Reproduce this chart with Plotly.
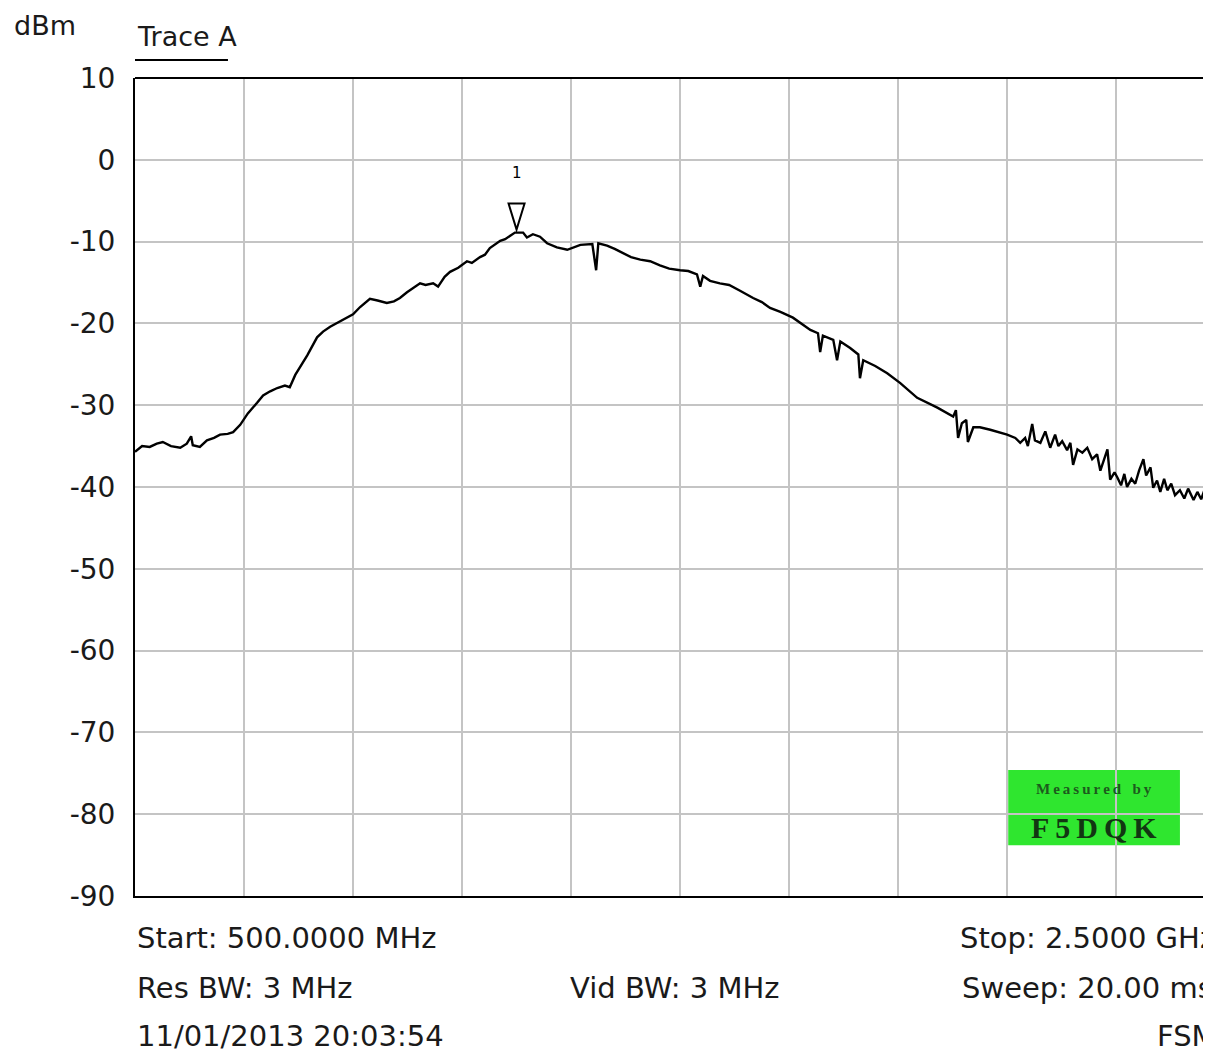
import plotly.graph_objects as go

# trace A (MHz, dBm)
freq_mhz = [500, 513, 527, 540, 551, 566, 583, 595, 603, 606, 619, 632, 645, 656, 670, 680, 693, 707,
            724, 735, 748, 761, 775, 784, 794, 803, 816, 834, 845, 858, 875, 889, 900, 913, 931, 945,
            962, 975, 986, 999, 1008, 1023, 1033, 1047, 1056, 1068, 1078, 1093, 1109, 1118, 1133, 1142,
            1151, 1160, 1170, 1179, 1188, 1197, 1212, 1219, 1230, 1243, 1256, 1274, 1293, 1317, 1339,
            1346, 1350, 1366, 1380, 1395, 1410, 1427, 1445, 1463, 1480, 1500, 1515, 1531, 1537, 1542,
            1555, 1573, 1590, 1610, 1620, 1634, 1650, 1665, 1684,
            1707, 1739, 1753, 1757, 1762, 1781, 1788, 1794, 1812, 1827, 1830, 1836, 1858, 1880, 1904,
            1935, 1972, 2001, 2006, 2010, 2017, 2025, 2028, 2038, 2050, 2069, 2087, 2100, 2115, 2124,
            2133, 2138, 2146, 2151, 2161, 2170, 2179, 2188, 2194, 2201, 2210, 2216, 2221, 2229, 2238,
            2247, 2256, 2265, 2271, 2280, 2284, 2289, 2297, 2302, 2309, 2315, 2320, 2328, 2335, 2342,
            2350, 2355, 2363, 2368, 2375, 2381, 2388, 2394, 2401, 2408, 2417, 2425, 2432, 2442, 2449,
            2456, 2464, 2469, 2474]
level_dbm = [-35.7, -35.0, -35.1, -34.7, -34.5, -35.0, -35.2, -34.7, -33.8, -34.9, -35.1, -34.3, -34.0,
             -33.6, -33.5, -33.3, -32.4, -31.0, -29.7, -28.8, -28.3, -27.9, -27.6, -27.8, -26.3, -25.3,
             -23.9, -21.7, -21.0, -20.4, -19.8, -19.3, -18.9, -18.0, -17.0, -17.2, -17.5, -17.3, -16.9,
             -16.2, -15.8, -15.1, -15.3, -15.1, -15.5, -14.3, -13.7, -13.2, -12.4, -12.6, -11.9, -11.6,
             -10.8, -10.4, -9.9, -9.7, -9.3, -8.9, -8.9, -9.5, -9.1, -9.4, -10.2, -10.7, -11.0, -10.4,
             -10.3, -13.5, -10.2, -10.5, -10.9, -11.4, -11.9, -12.2, -12.4, -12.9, -13.3, -13.5, -13.6,
             -14.0, -15.5, -14.2, -14.8, -15.1, -15.3, -16.0, -16.4, -16.9, -17.4, -18.1, -18.6,
             -19.3, -20.8, -21.2, -23.5, -21.5, -22.0, -24.5, -22.2, -23.0, -23.8, -26.7, -24.5, -25.2,
             -26.1, -27.3, -29.1, -30.3, -31.4, -30.6, -34.0, -32.2, -31.8, -34.5, -32.7, -32.7, -33.0,
             -33.3, -33.6, -34.0, -34.6, -34.0, -35.0, -32.3, -34.3, -34.6, -33.2, -35.2, -33.6, -35.0,
             -34.4, -35.5, -34.6, -37.3, -35.4, -35.8, -35.2, -36.6, -36.0, -38.0, -36.0, -35.4, -39.1,
             -38.2, -38.8, -39.8, -38.4, -40.0, -39.0, -39.6, -38.0, -36.6, -38.6, -37.6, -40.1, -39.2,
             -40.6, -39.0, -40.4, -39.6, -41.0, -40.4, -41.4, -40.2, -41.6, -40.6, -41.5, -40.0, -41.2,
             -40.8]

marker_freq = 1200
marker_level = -8.9

y_ticks = [10, 0, -10, -20, -30, -40, -50, -60, -70, -80, -90]
y_ticktext = ["10", "0", "-10", "-20", "-30", "-40", "-50", "-60", "-70", "-80", "-90"]

fuente = "DejaVu Sans, Liberation Sans, sans-serif"
color_texto = "#1a1a1a"

fig = go.Figure()
fig.add_trace(go.Scatter(x=freq_mhz, y=level_dbm, mode="lines",
                         line=dict(color="black", width=2.4), hoverinfo="skip"))

# la página tiene 8 px de margen en el body, se compensa aquí
fig.update_layout(
    width=1203, height=1044,
    margin=dict(l=127, r=0, t=70, b=156),
    paper_bgcolor="white", plot_bgcolor="white",
    showlegend=False,
    font=dict(family=fuente, size=27, color=color_texto),
)
fig.update_xaxes(range=[500, 2474], tick0=500, dtick=200, showticklabels=False, ticks="",
                 showgrid=True, gridcolor="#c4c4c4", gridwidth=2, zeroline=False,
                 showline=True, linecolor="black", linewidth=2)
fig.update_yaxes(range=[-90, 10], tickvals=y_ticks, ticktext=y_ticktext, showgrid=True,
                 gridcolor="#c4c4c4", gridwidth=2, zeroline=False, ticks="",
                 showline=True, linecolor="black", linewidth=2, ticklabelstandoff=12,
                 tickfont=dict(size=28, color=color_texto))

# borde superior del cuadro
fig.add_shape(type="line", xref="paper", yref="paper", x0=0, x1=1, y0=1, y1=1,
              line=dict(color="black", width=2))

# marcador 1
fig.add_shape(type="path", xref="x", yref="y", xsizemode="pixel", ysizemode="pixel",
              xanchor=marker_freq, yanchor=marker_level,
              path="M-8,29 L8,29 L0,3 Z", line=dict(color="black", width=2), fillcolor="white")
fig.add_annotation(x=marker_freq, y=marker_level, text="1", showarrow=False, yshift=60,
                   font=dict(size=15, color="black"))

# recuadro verde
fig.add_shape(type="rect", xref="x", yref="y", x0=2102, x1=2417, y0=-83.8, y1=-74.6,
              fillcolor="#2fe62f", line=dict(width=0), layer="below")
fig.add_annotation(x=2260, y=-76.9, text="<b>M\u2009e\u2009a\u2009s\u2009u\u2009r\u2009e\u2009d\u2002 b\u2009y</b>",
                   showarrow=False,
                   font=dict(family="Liberation Serif, serif", size=15, color="#1d5a1d"))
fig.add_annotation(x=2260, y=-81.6, text="<b>F\u20095\u2009D\u2009Q\u2009K</b>", showarrow=False,
                   font=dict(family="Liberation Serif, serif", size=30, color="#123612"))

# textos de cabecera y pie
textos = [
    ("dBm", -0.1143, 1.0636, 27),
    ("Trace A", 0.0, 1.0513, 27),
    ("Start: 500.0000 MHz", 0.0, -0.0513, 29),
    ("Res BW: 3 MHz", 0.0, -0.1125, 29),
    ("11/01/2013 20:03:54", 0.0, -0.1711, 29),
    ("Vid BW: 3 MHz", 0.4024, -0.1125, 29),
    ("Stop: 2.5000 GHz", 0.7649, -0.0513, 29),
    ("Sweep: 20.00 ms", 0.7667, -0.1125, 29),
    ("FSM", 0.948, -0.1711, 29),
]
for t, x, y, s in textos:
    fig.add_annotation(text=t, xref="paper", yref="paper", x=x, y=y, xanchor="left",
                       yanchor="middle", showarrow=False, font=dict(size=s, color=color_texto))

fig.add_shape(type="line", xref="paper", yref="paper", x0=0, x1=0.0864, y0=1.022, y1=1.022,
              line=dict(color="black", width=2))

fig.write_html("out.html")
